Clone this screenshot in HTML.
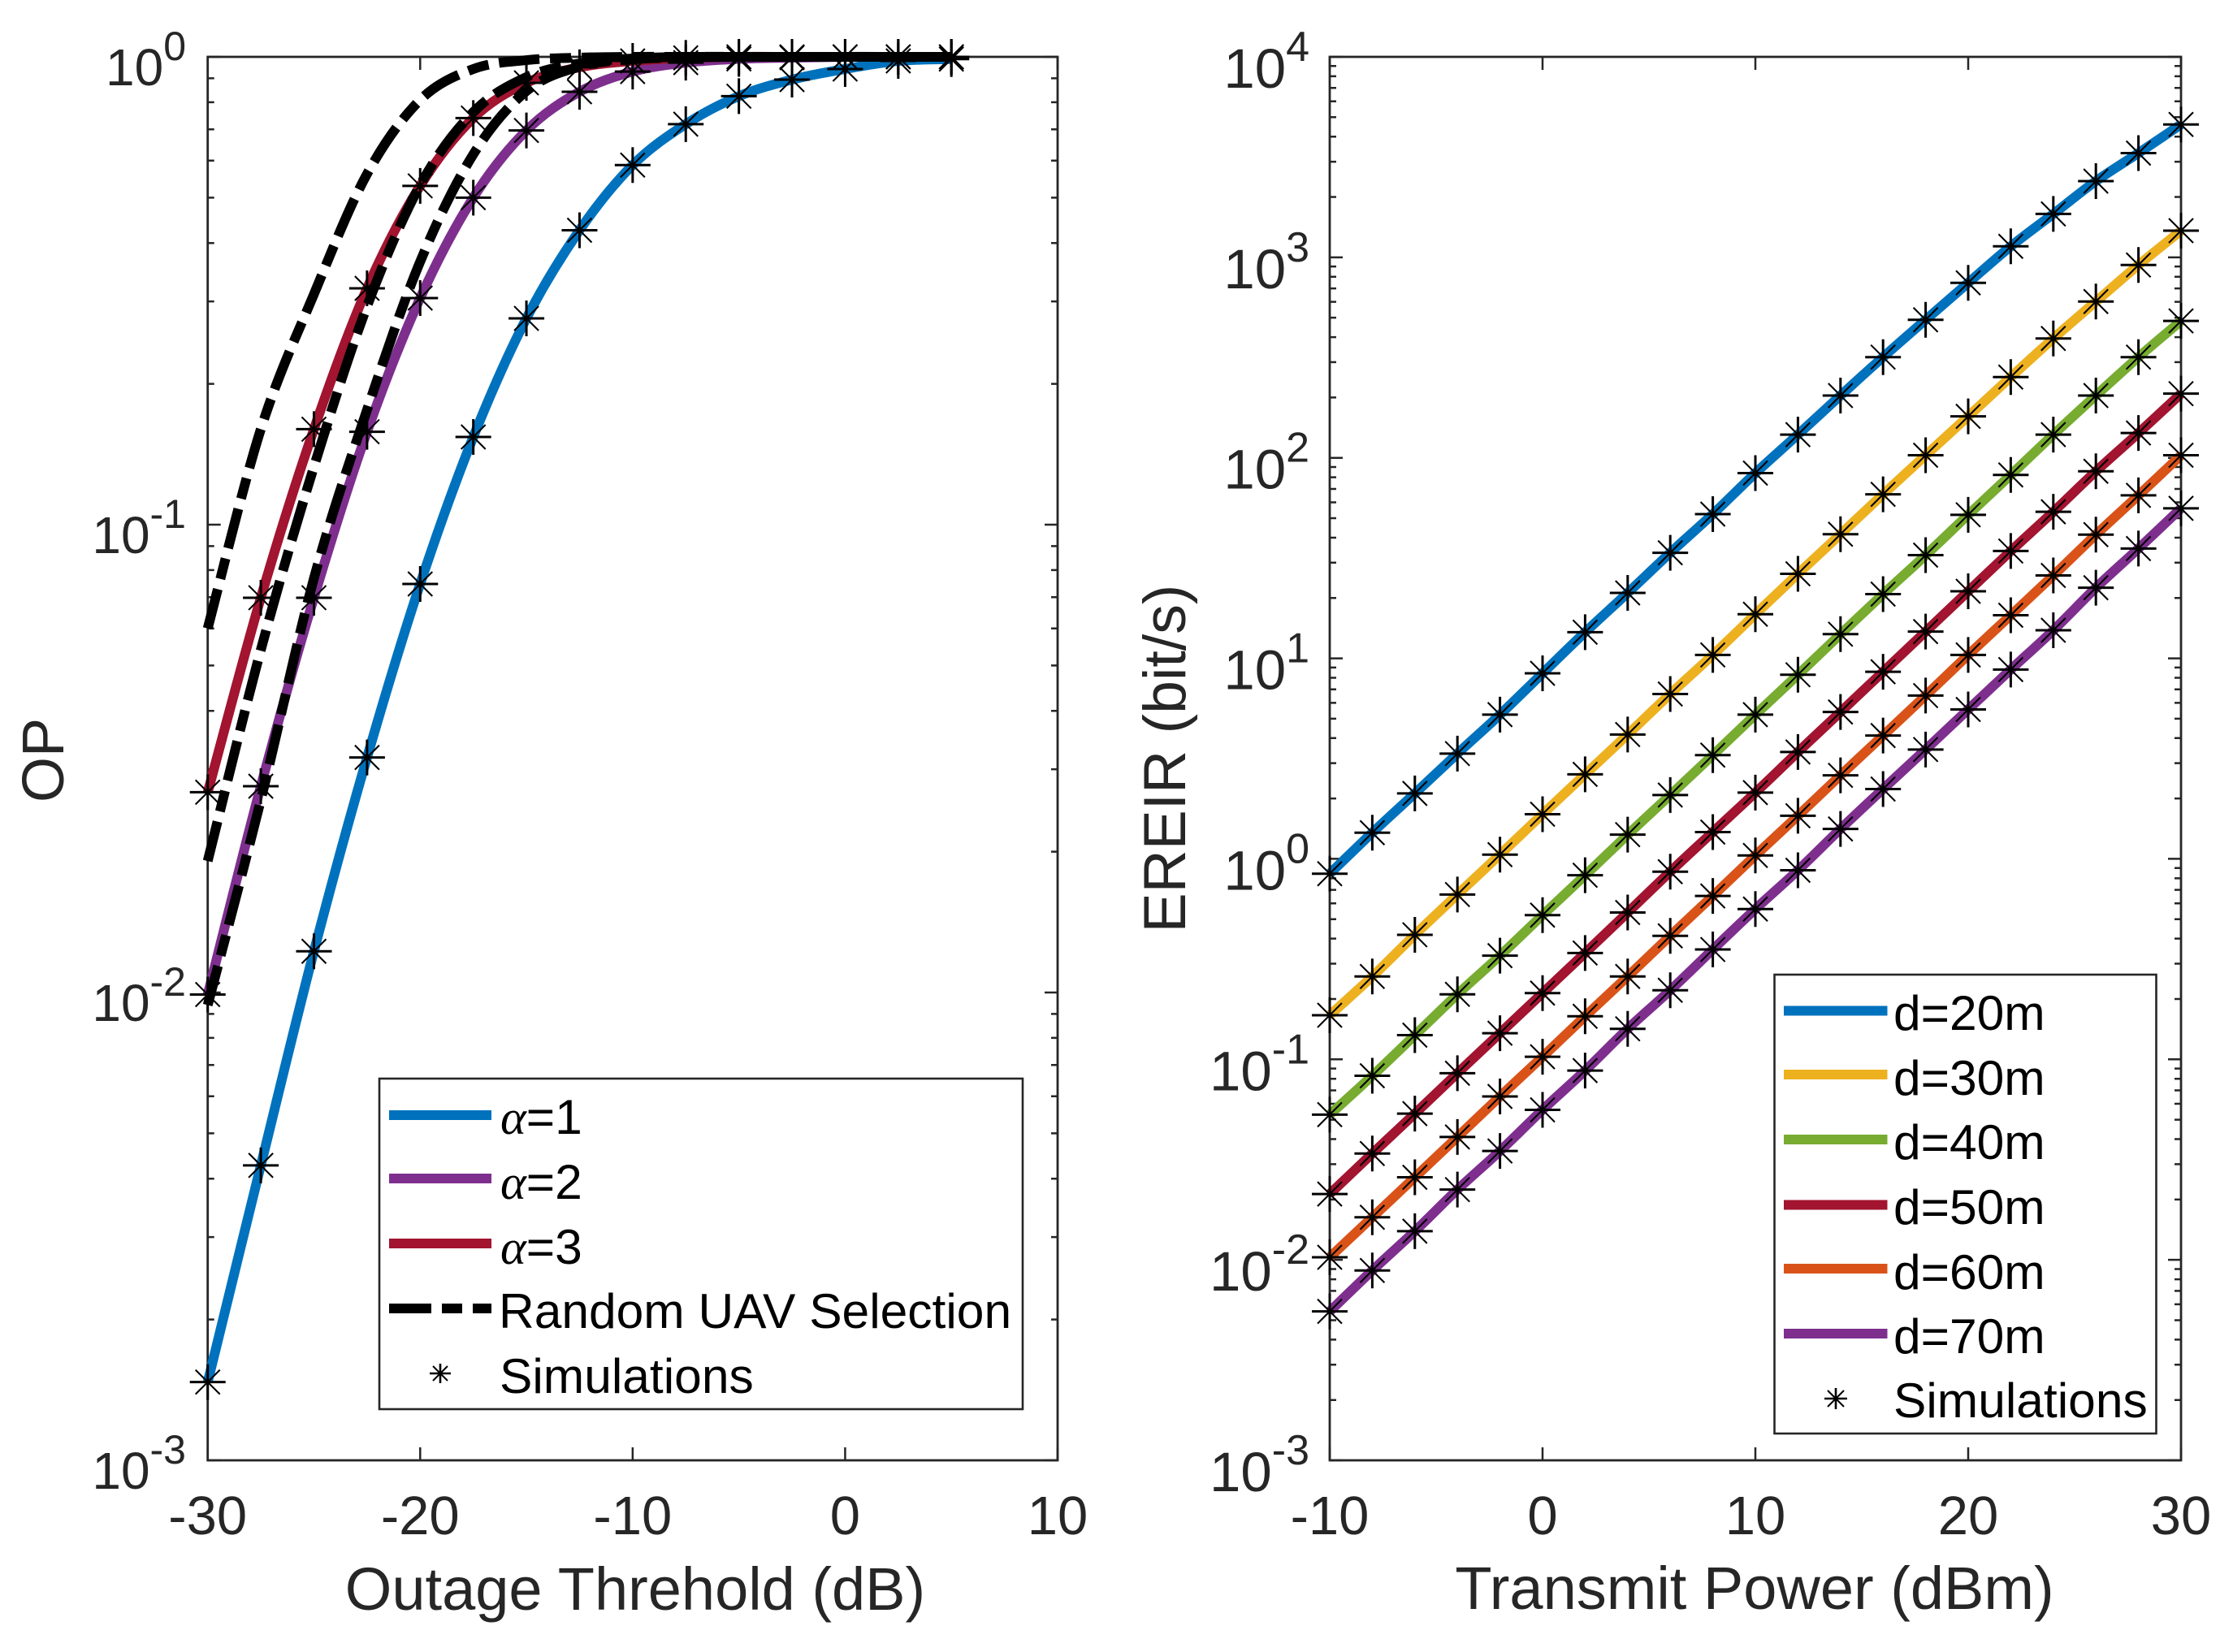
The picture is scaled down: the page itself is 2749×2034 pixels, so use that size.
<!DOCTYPE html>
<html lang="en">
<head>
<meta charset="utf-8">
<title>Outage probability and EREIR charts</title>
<style>
  html, body { margin: 0; padding: 0; background: #fff; }
  svg { display: block; font-family: "Liberation Sans", Arial, sans-serif; }
  .tick { stroke: #262626; stroke-width: 2.5; fill: none; }
  .frame { stroke: #262626; stroke-width: 2.8; fill: none; }
  .tl { fill: #262626; }
  .axl { fill: #262626; font-size: 74px; }
  .lg { fill: #000; font-size: 60.5px; }
  .lbox { fill: #fff; stroke: #262626; stroke-width: 2.6; }
  .al { font-family: "Liberation Serif", serif; font-style: italic; }
</style>
</head>
<body>
<svg id="figure" xmlns="http://www.w3.org/2000/svg" width="2749" height="2034" viewBox="0 0 2749 2034">
  <rect width="2749" height="2034" fill="#fff"/>

  <g id="op-chart">
    <g id="op-axes"></g>
    <g id="op-lines"></g>
    <g id="op-markers"></g>
    <text class="axl" x="782" y="1982" text-anchor="middle">Outage Threhold (dB)</text>
    <text class="axl" style="font-size:72px" transform="translate(78,936) rotate(-90)" text-anchor="middle">OP</text>
    <g>
      <rect class="lbox" x="467" y="1328" width="792" height="407"/>
      <line x1="479" x2="605" y1="1373" y2="1373" stroke="#0072BD" stroke-width="12"/>
      <text class="lg" x="616" y="1396"><tspan class="al">α</tspan>=1</text>
      <line x1="479" x2="605" y1="1451" y2="1451" stroke="#7E2F8E" stroke-width="12"/>
      <text class="lg" x="616" y="1476"><tspan class="al">α</tspan>=2</text>
      <line x1="479" x2="605" y1="1531" y2="1531" stroke="#A2142F" stroke-width="12"/>
      <text class="lg" x="616" y="1556"><tspan class="al">α</tspan>=3</text>
      <line x1="479" x2="605" y1="1611" y2="1611" stroke="#000" stroke-width="12" stroke-dasharray="52 13 25 13 25"/>
      <text class="lg" x="614" y="1635">Random UAV Selection</text>
      <g stroke="#000" transform="translate(542,1691)">
        <path d="M-13 0H13M0 -12V12" stroke-width="2.6"/>
        <path d="M-9 -9L9 9M-9 9L9 -9" stroke-width="2"/>
      </g>
      <text class="lg" x="615" y="1715">Simulations</text>
    </g>
  </g>

  <g id="ereir-chart">
    <g id="ereir-axes"></g>
    <g id="ereir-lines"></g>
    <g id="ereir-markers"></g>
    <text class="axl" x="2160" y="1981" text-anchor="middle">Transmit Power (dBm)</text>
    <text class="axl" style="font-size:73.5px" transform="translate(1459,934) rotate(-90)" text-anchor="middle">EREIR (bit/s)</text>
    <g>
      <rect class="lbox" x="2184.5" y="1200" width="470" height="565"/>
      <line x1="2196" x2="2323.5" y1="1244.5" y2="1244.5" stroke="#0072BD" stroke-width="12"/>
      <text class="lg" x="2331" y="1268">d=20m</text>
      <line x1="2196" x2="2323.5" y1="1323" y2="1323" stroke="#EDB120" stroke-width="12"/>
      <text class="lg" x="2331" y="1348">d=30m</text>
      <line x1="2196" x2="2323.5" y1="1403" y2="1403" stroke="#77AC30" stroke-width="12"/>
      <text class="lg" x="2331" y="1427">d=40m</text>
      <line x1="2196" x2="2323.5" y1="1483.5" y2="1483.5" stroke="#A2142F" stroke-width="12"/>
      <text class="lg" x="2331" y="1507">d=50m</text>
      <line x1="2196" x2="2323.5" y1="1562" y2="1562" stroke="#D95319" stroke-width="12"/>
      <text class="lg" x="2331" y="1587">d=60m</text>
      <line x1="2196" x2="2323.5" y1="1642" y2="1642" stroke="#7E2F8E" stroke-width="12"/>
      <text class="lg" x="2331" y="1666">d=70m</text>
      <g stroke="#000" transform="translate(2260,1722)">
        <path d="M-14 0H14M0 -13V13" stroke-width="2.6"/>
        <path d="M-10 -10L10 10M-10 10L10 -10" stroke-width="2"/>
      </g>
      <text class="lg" x="2331" y="1745">Simulations</text>
    </g>
  </g>
</svg>

<script>
// ---------- Left chart data ----------
const opThresholdDb = [-30, -27.5, -25, -22.5, -20, -17.5, -15, -12.5, -10, -7.5, -5, -2.5, 0, 2.5, 5];
const opAlpha1 = [0.00147, 0.00427, 0.01225, 0.0318, 0.0747, 0.154, 0.276, 0.426, 0.587, 0.718, 0.824, 0.894, 0.942, 0.98, 0.989];
const opAlpha2 = [0.0099, 0.0276, 0.0698, 0.158, 0.305, 0.5, 0.696, 0.842, 0.93, 0.972, 0.99, 0.996, 1, 1, 1];
const opAlpha3 = [0.0268, 0.0698, 0.16, 0.32, 0.53, 0.74, 0.88, 0.95, 0.98, 0.995, 1, 1, 1, 1, 1];
const opRandomAlpha3 = [0.06, 0.16, 0.311, 0.562, 0.809, 0.942, 0.984, 0.996, 1, 1, 1, 1, 1, 1, 1];
const opRandomAlpha2 = [0.0191, 0.054, 0.133, 0.293, 0.532, 0.762, 0.905, 0.968, 0.992, 1, 1, 1, 1, 1, 1];
const opRandomAlpha1 = [0.0094, 0.0258, 0.0768, 0.176, 0.365, 0.619, 0.845, 0.953, 0.988, 0.997, 1, 1, 1, 1, 1];
const opXTicks = [-30, -20, -10, 0, 10];
const opYExponents = [0, -1, -2, -3];

// ---------- Right chart data ----------
const powerDbm = [-10, -8, -6, -4, -2, 0, 2, 4, 6, 8, 10, 12, 14, 16, 18, 20, 22, 24, 26, 28, 30];
const ereirD20 = [0.843, 1.35, 2.12, 3.35, 5.24, 8.42, 13.5, 21.2, 33.6, 52.4, 83.9, 130.6, 204.6, 318, 488, 746, 1135, 1647, 2400, 3310, 4602];
const ereirD30 = [0.166, 0.259, 0.418, 0.664, 1.05, 1.67, 2.64, 4.17, 6.64, 10.4, 16.6, 26.4, 41.6, 65.8, 103, 161, 253, 394, 602, 916, 1358];
const ereirD40 = [0.053, 0.0828, 0.132, 0.211, 0.329, 0.524, 0.828, 1.32, 2.08, 3.29, 5.24, 8.28, 13.2, 20.9, 32.7, 52, 82.2, 130.6, 204.6, 318, 482];
const ereirD50 = [0.0213, 0.0339, 0.0536, 0.0853, 0.135, 0.214, 0.339, 0.54, 0.863, 1.36, 2.14, 3.41, 5.4, 8.57, 13.6, 21.6, 34.3, 53.8, 85.7, 133, 209];
const ereirD60 = [0.0103, 0.0163, 0.0258, 0.041, 0.0653, 0.103, 0.164, 0.259, 0.413, 0.653, 1.04, 1.64, 2.61, 4.12, 6.52, 10.4, 16.4, 25.9, 41.4, 65, 103];
const ereirD70 = [0.00553, 0.00885, 0.0139, 0.0224, 0.0349, 0.056, 0.0879, 0.142, 0.221, 0.353, 0.562, 0.877, 1.41, 2.23, 3.51, 5.56, 8.79, 13.8, 22.5, 35.3, 56];
const ereirXTicks = [-10, 0, 10, 20, 30];
const ereirYExponents = [4, 3, 2, 1, 0, -1, -2, -3];

// ---------- Axis functions ----------
const PLOT_TOP = 70, PLOT_BOTTOM = 1798;
function makeLinear(d0, d1, r0, r1) {
  return function (v) { return r0 + (v - d0) * (r1 - r0) / (d1 - d0); };
}
function makeLog(eMax, eMin) {
  return function (v) { return PLOT_TOP + (eMax - Math.log10(v)) * (PLOT_BOTTOM - PLOT_TOP) / (eMax - eMin); };
}
const opX = makeLinear(-30, 10, 255.7, 1302);
const opY = makeLog(0, -3);
const ereirX = makeLinear(-10, 30, 1637, 2685);
const ereirY = makeLog(4, -3);

const NS = 'http://www.w3.org/2000/svg';
function add(parent, tag, attrs) {
  const el = document.createElementNS(NS, tag);
  for (const k in attrs) el.setAttribute(k, attrs[k]);
  parent.appendChild(el);
  return el;
}

function smoothPath(xs, ys, fx, fy) {
  const p = xs.map(function (x, i) { return [fx(x), fy(ys[i])]; });
  let d = 'M' + p[0][0].toFixed(2) + ' ' + p[0][1].toFixed(2);
  for (let i = 0; i < p.length - 1; i++) {
    const a = p[i - 1] || p[i], b = p[i], c = p[i + 1], e = p[i + 2] || c;
    const c1x = b[0] + (c[0] - a[0]) / 6, c1y = b[1] + (c[1] - a[1]) / 6;
    const c2x = c[0] - (e[0] - b[0]) / 6, c2y = c[1] - (e[1] - b[1]) / 6;
    d += 'C' + c1x.toFixed(2) + ' ' + c1y.toFixed(2) + ' ' + c2x.toFixed(2) + ' ' + c2y.toFixed(2) + ' ' + c[0].toFixed(2) + ' ' + c[1].toFixed(2);
  }
  return d;
}

function drawAxes(g, cfg) {
  const left = cfg.fx(cfg.xTicks[0]);
  const right = cfg.fx(cfg.xTicks[cfg.xTicks.length - 1]);

  const frame = add(g, 'rect', { x: left, y: PLOT_TOP, width: right - left, height: PLOT_BOTTOM - PLOT_TOP, 'class': 'frame' });
  
  

  cfg.xTicks.forEach(function (t) {
    const x = cfg.fx(t);
    const mark = add(g, 'path', { d: 'M' + x + ' ' + PLOT_BOTTOM + 'v-16M' + x + ' ' + PLOT_TOP + 'v16', 'class': 'tick' });
    
    
    const lab = add(g, 'text', { x: x, y: 1889, 'text-anchor': 'middle', 'class': 'tl', style: 'font-size:67px' });
    lab.textContent = String(t);
    
    
  });

  cfg.yExponents.forEach(function (ex, i) {
    const y = cfg.fy(Math.pow(10, ex));
    const mark = add(g, 'path', { d: 'M' + left + ' ' + y + 'h16M' + right + ' ' + y + 'h-16', 'class': 'tick' });
    
    

    const lab = add(g, 'text', { x: cfg.labelRight, y: y + cfg.labelDrop, 'text-anchor': 'end', 'class': 'tl', style: 'font-size:' + cfg.labelSize + 'px' });
    const base = add(lab, 'tspan', {});
    base.textContent = '10';
    const sup = add(lab, 'tspan', { dy: -cfg.supRaise, style: 'font-size:' + cfg.supSize + 'px' });
    sup.textContent = String(ex);
    
    

    if (i < cfg.yExponents.length - 1) {
      for (let m = 2; m <= 9; m++) {
        const ym = cfg.fy(m * Math.pow(10, cfg.yExponents[i + 1]));
        const minor = add(g, 'path', { d: 'M' + left + ' ' + ym + 'h8M' + right + ' ' + ym + 'h-8', 'class': 'tick' });
        
        
      }
    }
  });
}

function drawLine(g, xs, ys, fx, fy, color, dash) {
  const attrs = { d: smoothPath(xs, ys, fx, fy), fill: 'none', stroke: color, 'stroke-width': 12, 'stroke-linejoin': 'round' };
  if (dash) attrs['stroke-dasharray'] = dash;
  return add(g, 'path', attrs);
}

function drawMarkers(g, xs, ys, fx, fy) {
  xs.forEach(function (x, i) {
    const s = add(g, 'g', { transform: 'translate(' + fx(x).toFixed(2) + ',' + fy(ys[i]).toFixed(2) + ')', stroke: '#000' });
    
    
    add(s, 'path', { d: 'M-22 0H22M0 -22V22', 'stroke-width': 3 });
    add(s, 'path', { d: 'M-15 -15L15 15M-15 15L15 -15', 'stroke-width': 2.1 });
  });
}

// ---------- Left chart ----------
drawAxes(document.getElementById('op-axes'), {
  fx: opX, fy: opY, xTicks: opXTicks, yExponents: opYExponents,
  labelRight: 229, labelDrop: 35, labelSize: 64, supSize: 50, supRaise: 31
});
const opLines = document.getElementById('op-lines');
const opMarkers = document.getElementById('op-markers');
const opL1 = drawLine(opLines, opThresholdDb, opAlpha1, opX, opY, '#0072BD');


const opL2 = drawLine(opLines, opThresholdDb, opAlpha2, opX, opY, '#7E2F8E');


const opL3 = drawLine(opLines, opThresholdDb, opAlpha3, opX, opY, '#A2142F');


const opDash = '50 13 26 13';
const opR1 = drawLine(opLines, opThresholdDb, opRandomAlpha1, opX, opY, '#000', opDash);


const opR2 = drawLine(opLines, opThresholdDb, opRandomAlpha2, opX, opY, '#000', opDash);


const opR3 = drawLine(opLines, opThresholdDb, opRandomAlpha3, opX, opY, '#000', opDash);


drawMarkers(opMarkers, opThresholdDb, opAlpha1, opX, opY);
drawMarkers(opMarkers, opThresholdDb, opAlpha2, opX, opY);
drawMarkers(opMarkers, opThresholdDb, opAlpha3, opX, opY);

// ---------- Right chart ----------
drawAxes(document.getElementById('ereir-axes'), {
  fx: ereirX, fy: ereirY, xTicks: ereirXTicks, yExponents: ereirYExponents,
  labelRight: 1612, labelDrop: 38, labelSize: 69, supSize: 52, supRaise: 33
});
const erLines = document.getElementById('ereir-lines');
const erMarkers = document.getElementById('ereir-markers');
const er20 = drawLine(erLines, powerDbm, ereirD20, ereirX, ereirY, '#0072BD');


const er30 = drawLine(erLines, powerDbm, ereirD30, ereirX, ereirY, '#EDB120');


const er40 = drawLine(erLines, powerDbm, ereirD40, ereirX, ereirY, '#77AC30');


const er50 = drawLine(erLines, powerDbm, ereirD50, ereirX, ereirY, '#A2142F');


const er60 = drawLine(erLines, powerDbm, ereirD60, ereirX, ereirY, '#D95319');


const er70 = drawLine(erLines, powerDbm, ereirD70, ereirX, ereirY, '#7E2F8E');


drawMarkers(erMarkers, powerDbm, ereirD20, ereirX, ereirY);
drawMarkers(erMarkers, powerDbm, ereirD30, ereirX, ereirY);
drawMarkers(erMarkers, powerDbm, ereirD40, ereirX, ereirY);
drawMarkers(erMarkers, powerDbm, ereirD50, ereirX, ereirY);
drawMarkers(erMarkers, powerDbm, ereirD60, ereirX, ereirY);
drawMarkers(erMarkers, powerDbm, ereirD70, ereirX, ereirY);
</script>
</body>
</html>
